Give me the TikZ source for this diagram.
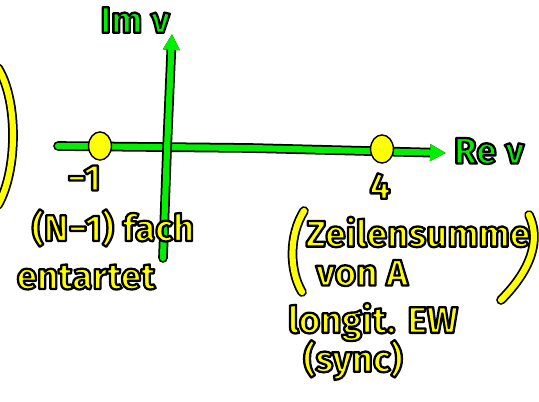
\documentclass[tikz,border=0pt]{standalone}
\usepackage{fontspec}
\setsansfont{Fira Sans}
\usetikzlibrary{arrows.meta,positioning,shapes.geometric}
\definecolor{penyellow}{RGB}{255,255,0}
\definecolor{pengreen}{RGB}{0,240,0}
\newcommand{\outl}[1]{\special{pdf:literal direct 0 0 0 RG 1.3 w 1 j 2 Tr}#1\special{pdf:literal direct 0 Tr}}
\tikzset{
  greenpen/.style={draw=pengreen, line width=3.5pt, line cap=round,
    preaction={draw=black, line width=5.5pt, line cap=round}},
  yellowpen/.style={draw=penyellow, line width=3.5pt, line cap=round,
    preaction={draw=black, line width=5.5pt, line cap=round}},
  ink/.style={inner sep=0pt, font=\sffamily\bfseries\fontsize{21}{24}\selectfont},
  yellowink/.style={ink, text=penyellow},
  greenink/.style={ink, text=pengreen},
  root/.style={ellipse, draw=black, line width=0.8pt, fill=penyellow,
    minimum width=13pt, minimum height=16pt, inner sep=0pt}
}
\begin{document}
\begin{tikzpicture}[x=0.02cm, y=-0.02cm]
\useasboundingbox (0,0) rectangle (539,402);

% axes
\coordinate (re0) at (58,146);
\coordinate (re1) at (446,153);
\coordinate (im0) at (163,258);
\coordinate (im1) at (172,34);
\draw[greenpen, -{Triangle[length=9pt,width=9pt]}] (re0) -- (250,148) -- (re1);
\draw[greenpen, -{Triangle[length=9pt,width=9pt]}] (im0) -- (167,150) -- (im1);
\node[greenink] (relabel) at (489,151) {\outl{Re ν}};
\node[greenink] (imlabel) at (135,20) {\outl{Im ν}};

% eigenvalues
\node[root] (ev1) at (100,146) {};
\node[root] (ev2) at (382,149) {};
\node[yellowink] (m1) at (84,178) {\outl{−1}};
\node[yellowink] (p4) at (380,186) {\outl{4}};

% left: degenerate
\node[yellowink] (deg) at (113,228) {\outl{(N−1) fach}};
\node[yellowink] (ent) at (86,277) {\outl{entartet}};

% right: row sum
\node[yellowink] (zs) at (418,232) {\outl{Zeilensumme}};
\node[yellowink] (vA) at (362,273) {\outl{von A}};
\node[yellowink] (lew) at (373,322) {\outl{longit. EW}};
\node[yellowink] (sync) at (353,360) {\outl{(sync)}};
\draw[yellowpen] (304,211) .. controls (289,235) and (289,270) .. (302,292);
\draw[yellowpen] (529,215) .. controls (541,240) and (531,270) .. (501,300);

% arc at left edge
\draw[yellowpen] (-2,68) .. controls (18,100) and (18,170) .. (-2,205);
\end{tikzpicture}
\end{document}
